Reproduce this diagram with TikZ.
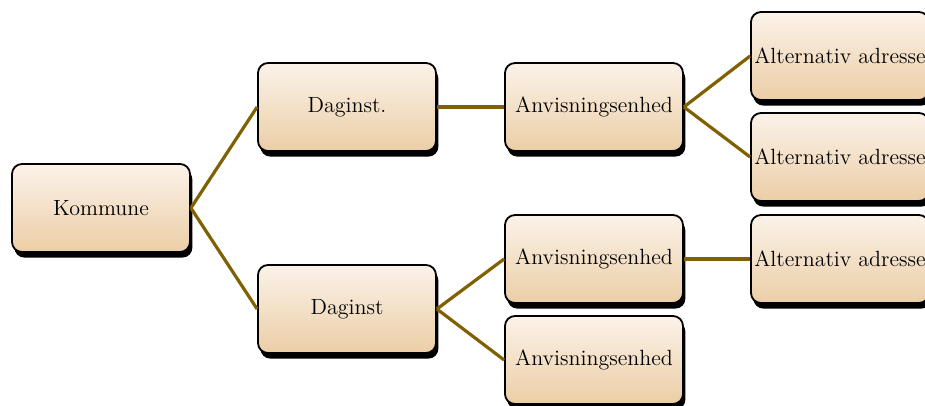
\documentclass[tikz,border=0pt]{standalone}
\usetikzlibrary{shadows}
\definecolor{boxtop}{HTML}{FBF2E9}
\definecolor{boxbottom}{HTML}{EBCEA6}
\definecolor{linkcol}{HTML}{806000}
\begin{document}
\begin{tikzpicture}[x=0.5pt,y=-0.5pt]
  \tikzset{unit/.style={draw=black, line width=0.9pt, rounded corners=5pt, minimum width=89pt, minimum height=44pt, inner sep=0pt, top color=boxtop, bottom color=boxbottom, drop shadow={shadow xshift=1.2pt, shadow yshift=-2.8pt, fill=black, opacity=1}, font=\fontsize{11}{13}\selectfont},
           link/.style={draw=linkcol, line width=1.6pt}}
  \useasboundingbox (0,0) rectangle (925,406);
    \node[unit] at (101,208) (k) {Kommune};
    \node[unit] at (347,107) (d_1) {Daginst.};
    \node[unit] at (347,309) (d_2) {Daginst};
    \node[unit] at (594,107) (a_1) {Anvisningsenhed};
    \node[unit] at (594,259) (a_2) {Anvisningsenhed};
    \node[unit] at (594,360) (a_3) {Anvisningsenhed};
    \node[unit] at (840,56) (alt_1) {Alternativ adresse};
    \node[unit] at (840,157) (alt_2) {Alternativ adresse};
    \node[unit] at (840,259) (alt_3) {Alternativ adresse};

    \draw[link] (k.east) -- (d_1.west);
    \draw[link] (k.east) -- (d_2.west);
    \draw[link] (d_1.east) -- (a_1.west);
    \draw[link] (d_2.east) -- (a_2.west);
    \draw[link] (d_2.east) -- (a_3.west);
    \draw[link] (a_1.east) -- (alt_1.west);
    \draw[link] (a_1.east) -- (alt_2.west);
    \draw[link] (a_2.east) -- (alt_3.west);
  \end{tikzpicture}
\end{document}
